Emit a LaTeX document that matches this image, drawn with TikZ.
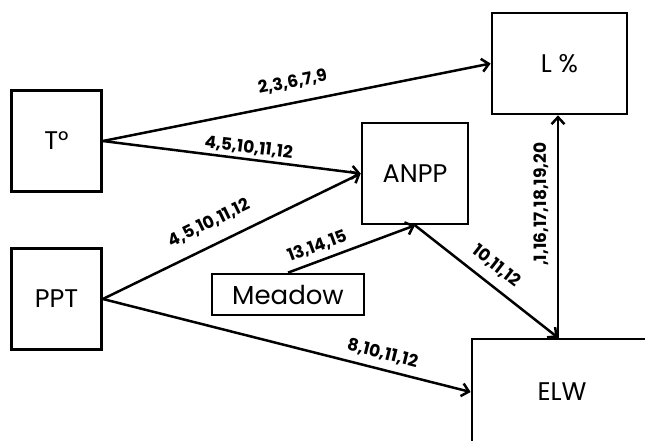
\documentclass[tikz,border=0pt]{standalone}
\usepackage{fontspec}
\setmainfont{Poppins}
\usetikzlibrary{arrows.meta}
\tikzset{
  box/.style={draw, line width=2.7pt, rectangle, inner sep=0pt, font=\fontsize{25.5}{28}\selectfont},
  conn/.style={line width=2.5pt, -{Straight Barb[length=7pt,width=13pt,line width=2.5pt]}},
  lbl/.style={sloped, inner sep=1pt, font=\bfseries\fontsize{17}{19}\selectfont}
}
\begin{document}
\begin{tikzpicture}[x=1pt,y=-1pt]
\useasboundingbox (0,0) rectangle (645,440);
\clip (0,0) rectangle (645,440);
\fill[white] (0,0) rectangle (645,440);
\node[box, minimum width=135pt, minimum height=101pt] (L) at (559.5,63.5) {L \%};
\node[box, minimum width=90pt, minimum height=101pt] (T) at (56.5,141) {T°};
\node[box, minimum width=106pt, minimum height=101pt] (A) at (415,173.5) {ANPP};
\node[box, minimum width=90pt, minimum height=101pt] (P) at (56.5,299) {PPT};
\node[box, minimum width=152pt, minimum height=41pt, font=\fontsize{26}{28}\selectfont] (M) at (288,294.5) {Meadow};
\node[box, minimum width=180pt, minimum height=106pt] (E) at (562,392) {ELW};
\coordinate (Etop) at ([xshift=-4pt]E.north);
\draw[conn] (T.east) -- node[lbl, above=11pt, pos=0.5] {2,3,6,7,9} (L.west);
\draw[conn] (T.east) -- node[lbl, above=2pt, pos=0.56] {4,5,10,11,12} (A.west);
\draw[conn] (P.east) -- node[lbl, above=12pt, pos=0.45] {4,5,10,11,12} (A.west);
\draw[conn] (M.north) -- node[lbl, above=5pt, pos=0.27] {13,14,15} (A.south);
\draw[conn] (A.south) -- node[lbl, above=9pt, pos=0.49] {10,11,12} (Etop);
\draw[conn] (P.east) -- node[lbl, above=6pt, pos=0.75] {8,10,11,12} (E.west);
\draw[conn] (Etop) -- node[lbl, above=7pt, pos=0.6] {,1,16,17,18,19,20} (Etop |- L.south);
\end{tikzpicture}
\end{document}
